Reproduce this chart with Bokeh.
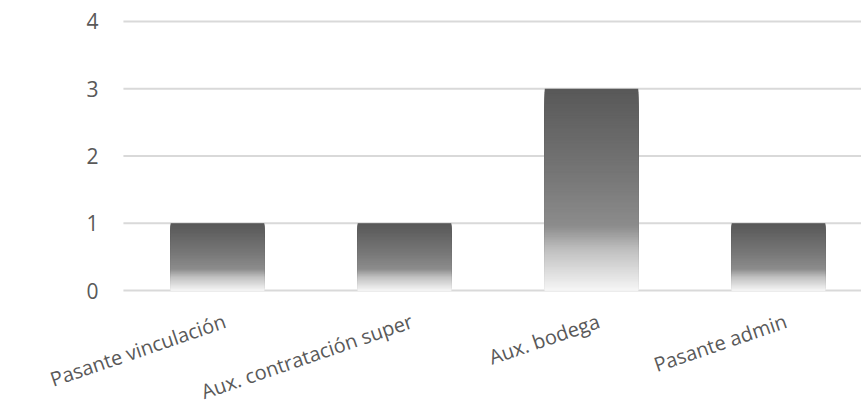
import numpy as np
from bokeh.plotting import figure
from bokeh.models import Range1d, ColumnDataSource, LabelSet
from bokeh.core.properties import value
from bokeh.embed import file_html
from bokeh.resources import INLINE

categories = ["Pasante vinculación", "Aux. contratación super", "Aux. bodega", "Pasante admin"]
values = [1, 1, 3, 1]
y_ticks = [0, 1, 2, 3, 4]
y_tick_labels = ["0", "1", "2", "3", "4"]

FONT = "Open Sans"
TXT = "#595959"
X0, X1 = -0.503, 3.444   # extent of the plotting area (gridlines)

# the frame covers the whole page so that all labels can be placed freely
p = figure(width=861, height=410, output_backend="svg", toolbar_location=None,
           x_range=Range1d(-1.1604, 3.4439), y_range=Range1d(-1.784, 4.312),
           min_border_left=0, min_border_right=0, min_border_top=0, min_border_bottom=0)
p.outline_line_color = None
p.background_fill_color = "white"
p.border_fill_color = "white"
p.xaxis.visible = False
p.yaxis.visible = False
p.xgrid.grid_line_color = None
p.ygrid.grid_line_color = None

# horizontal gridlines
p.segment(x0=[X0] * len(y_ticks), x1=[X1] * len(y_ticks), y0=y_ticks, y1=y_ticks,
          line_color="#d9d9d9", line_width=2)

# value-axis labels
p.text(x=[X0] * len(y_ticks), y=y_ticks, text=y_tick_labels, x_offset=-25,
       text_align="right", text_baseline="middle", text_font=value(FONT),
       text_font_size="21px", text_color=TXT)

# vertical gradient (fraction from top of bar -> gray level), drawn as overlapping slices
stops_f = [0.0, 0.45, 0.68, 0.8, 1.0]
stops_g = [0x58, 0x78, 0x8c, 0xc0, 0xf6]
N = 120
xs, tops, colors = [], [], []
for k in range(N):
    f = (k + 0.5) / N
    g = int(round(np.interp(f, stops_f, stops_g)))
    for i, v in enumerate(values):
        xs.append(i)
        tops.append(v * (1 - k / N))
        colors.append("#%02x%02x%02x" % (g, g, g))
src = ColumnDataSource(dict(x=xs, top=tops, color=colors))
p.vbar(x="x", top="top", bottom=0, width=0.5, source=src,
       fill_color="color", line_color=None)

# category labels, rotated, right end anchored under each bar
lab_src = ColumnDataSource(dict(x=list(range(len(categories))), y=[0] * len(categories), text=categories))
p.add_layout(LabelSet(x="x", y="y", text="text", source=lab_src, angle=0.33,
                      text_align="right", text_baseline="top", x_offset=3, y_offset=-17,
                      text_font=value(FONT), text_font_size="20px", text_color=TXT))

open("out.html", "w").write(file_html(p, INLINE))
